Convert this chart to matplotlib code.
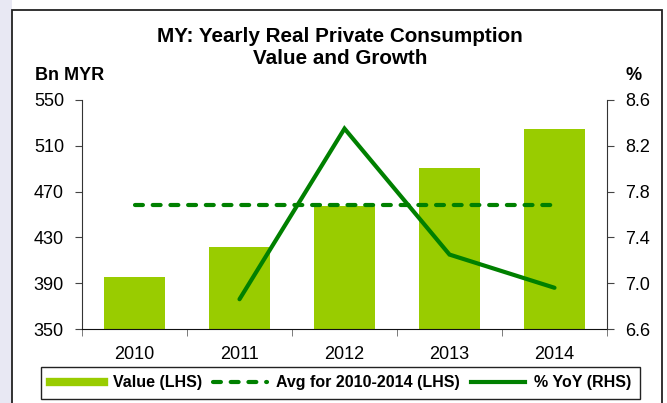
import matplotlib.pyplot as plt
from matplotlib.lines import Line2D
from matplotlib.patches import Rectangle
import numpy as np

plt.rcParams['font.family'] = ['Liberation Sans', 'DejaVu Sans']

years = ['2010', '2011', '2012', '2013', '2014']
value_bn = [395, 422, 457, 491, 525]
avg_value = 458
yoy_years = ['2011', '2012', '2013', '2014']
yoy_pct = [6.86, 8.35, 7.25, 6.96]

left_ticks = [350, 390, 430, 470, 510, 550]
right_ticks = [6.6, 7.0, 7.4, 7.8, 8.2, 8.6]

bar_color = '#99cc00'
line_color = '#008000'

W, H = 667, 403
fig = plt.figure(figsize=(W / 100, H / 100), dpi=100)

# background strip and outer frame
fig.patches.append(Rectangle((0, 0), 12 / W, 1, transform=fig.transFigure,
                             facecolor='#e8e8f3', edgecolor='none', zorder=-2))
fig.patches.append(Rectangle((12 / W, -0.05), (662 - 12) / W, 1.05 - 10 / H,
                             transform=fig.transFigure, facecolor='white',
                             edgecolor='#222222', lw=1.3, zorder=-1))

ax = fig.add_axes([82 / W, 1 - 329 / H, (607 - 82) / W, (329 - 100) / H])
ax.set_facecolor('none')
x = np.arange(len(years))
ax.bar(x, value_bn, width=0.59, color=bar_color, zorder=2)
ax.plot([0, len(years) - 1], [avg_value, avg_value], color=line_color, lw=3,
        dashes=(1.9, 2.35), dash_capstyle='round', zorder=3)
ax.set_xlim(-0.5, len(years) - 0.5)
ax.set_ylim(left_ticks[0], left_ticks[-1])
ax.set_yticks(left_ticks)
ax.set_xticks(x)
ax.set_xticklabels(years)
ax.set_xticks(np.arange(-0.5, len(years)), minor=True)
ax.tick_params(axis='x', which='major', length=0, pad=12, labelsize=13)
ax.tick_params(axis='x', which='minor', length=5, color='#666666', direction='out')
ax.tick_params(axis='y', length=5, pad=8, labelsize=13, color='#444444')
ax.spines['top'].set_visible(False)
ax.spines['right'].set_visible(False)
ax.spines['left'].set_color('#333333')
ax.spines['bottom'].set_color('#111111')

ax2 = ax.twinx()
ax2.plot([years.index(y) for y in yoy_years], yoy_pct, color=line_color, lw=3,
         solid_capstyle='round', solid_joinstyle='miter', zorder=4)
ax2.set_ylim(right_ticks[0], right_ticks[-1])
ax2.set_yticks(right_ticks)
ax2.set_yticklabels([f'{v:.1f}' for v in right_ticks])
ax2.tick_params(axis='y', length=5, pad=8, labelsize=13, color='#444444')
for s in ['top', 'left', 'bottom']:
    ax2.spines[s].set_visible(False)
ax2.spines['right'].set_color('#333333')

fig.text(340 / W, 1 - 37 / H, 'MY: Yearly Real Private Consumption',
         ha='center', va='center', fontsize=14.9, fontweight='bold')
fig.text(340 / W, 1 - 59 / H, 'Value and Growth',
         ha='center', va='center', fontsize=14.9, fontweight='bold')
fig.text(35 / W, 1 - 75 / H, 'Bn MYR', ha='left', va='center',
         fontsize=13, fontweight='bold')
fig.text(634 / W, 1 - 75 / H, '%', ha='center', va='center',
         fontsize=13, fontweight='bold')

handles = [
    Line2D([], [], color=bar_color, lw=6),
    Line2D([], [], color=line_color, lw=3, dashes=(1.9, 2.35), dash_capstyle='round'),
    Line2D([], [], color=line_color, lw=3),
]
labels = ['Value (LHS)', 'Avg for 2010-2014 (LHS)', '% YoY (RHS)']
leg = fig.legend(handles, labels, ncol=3, loc='center',
                 bbox_to_anchor=(340.5 / W, 1 - 383 / H),
                 borderpad=0.55, fancybox=False, framealpha=1, handlelength=3.4,
                 handletextpad=0.55, columnspacing=0.7,
                 prop={'weight': 'bold', 'size': 11.5})
leg.get_frame().set_edgecolor('#222222')
leg.get_frame().set_linewidth(1.0)

fig.savefig('out.png', dpi=100)
